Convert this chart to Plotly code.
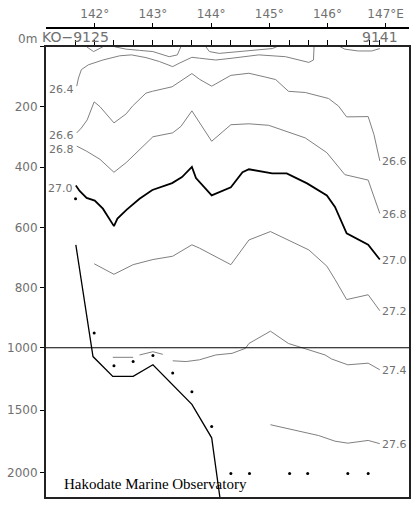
import plotly.graph_objects as go

# ---------------- data ----------------
station_lon = [141.67, 142.0, 142.33, 142.67, 143.0, 143.33, 143.67, 144.0, 144.33,
               144.67, 145.02, 145.35, 145.67, 146.0, 146.33, 146.72, 146.9]
first_station = "KO\u22129125"
last_station = "9141"

lon_ticks = [142, 143, 144, 145, 146, 147]
lon_tick_text = ["142°", "143°", "144°", "145°", "146°", "147°E"]
depth_ticks = [0, 200, 400, 600, 800, 1000, 1500, 2000]
depth_tick_text = ["", "200", "400", "600", "800", "1000", "1500", "2000"]

# near-surface unlabeled isolines
a_lon = [141.86, 141.98, 142.14]
a_dep = [0, 16, 0]
b_lon = [142.34, 142.54, 142.77, 143.0, 143.28, 143.42, 143.48]
b_dep = [0, 8, 12, 16, 33, 27, 0]
d_lon = [143.91, 143.97, 144.14, 144.65, 145.05, 145.13]
d_dep = [0, 16, 22, 14, 6, 0]
e_lon = [146.22, 146.30, 146.53, 146.76, 146.90]
e_dep = [0, 8, 14, 14, 6]

s264_lon = [141.69, 141.72, 141.77, 141.89, 142.14, 142.43, 142.63, 142.88, 143.11, 143.34,
            143.45, 143.67, 143.80, 144.08, 144.36, 144.82, 145.28, 145.50, 145.68, 145.76, 145.77]
s264_dep = [131, 104, 76, 60, 44, 30, 27, 36, 49, 66, 55, 35, 38, 44, 38, 27, 33, 44, 52, 44, 0]

s266_lon = [141.69, 141.77, 141.87, 141.99, 142.09, 142.33, 142.54, 142.65, 142.88, 142.99,
            143.33, 143.49, 143.67, 143.80, 144.01, 144.34, 144.65, 144.94, 145.11, 145.33,
            145.62, 146.02, 146.19, 146.33, 146.70, 146.80, 146.90]
s266_dep = [286, 270, 243, 183, 199, 253, 223, 197, 154, 148, 133, 112, 89, 108, 131, 95, 88,
            101, 109, 148, 152, 172, 197, 233, 232, 292, 379]

s268_lon = [141.69, 141.86, 142.09, 142.33, 142.54, 142.88, 143.0, 143.34, 143.48, 143.67,
            143.80, 144.01, 144.34, 144.65, 144.99, 145.62, 145.99, 146.30, 146.70, 146.90]
s268_dep = [330, 347, 374, 417, 385, 322, 299, 286, 265, 213, 253, 314, 259, 256, 261, 303,
            352, 425, 443, 554]

s270_lon = [141.675, 141.74, 141.86, 142.0, 142.14, 142.26, 142.33, 142.39, 142.55, 142.77,
            142.99, 143.33, 143.50, 143.67, 143.74, 144.01, 144.34, 144.54, 144.65, 145.05,
            145.30, 145.65, 145.99, 146.13, 146.33, 146.70, 146.90]
s270_dep = [461, 479, 502, 511, 538, 576, 596, 571, 541, 505, 476, 453, 433, 399, 436, 494,
            467, 417, 407, 421, 421, 454, 494, 532, 620, 658, 707]

s272_lon = [141.99, 142.33, 142.66, 143.0, 143.34, 143.67, 143.80, 144.34, 144.65, 145.02,
            145.68, 145.99, 146.13, 146.33, 146.70, 146.90]
s272_dep = [721, 756, 724, 707, 696, 658, 669, 724, 642, 614, 675, 729, 773, 840, 824, 877]

s274a_lon = [142.31, 142.66]
s274a_dep = [1077, 1077]
s274b_lon = [142.77, 143.0, 143.17]
s274b_dep = [1058, 1032, 1053]
s274_lon = [143.34, 143.57, 143.80, 144.08, 144.36, 144.59, 144.65, 145.02, 145.33, 145.56,
            145.96, 146.07, 146.35, 146.70, 146.90]
s274_dep = [1105, 1111, 1097, 1058, 1045, 1005, 986, 945, 986, 1000, 1058, 1090, 1137, 1124, 1177]

s276_lon = [145.02, 145.50, 145.85, 146.13, 146.35, 146.70, 146.90]
s276_dep = [1618, 1665, 1705, 1750, 1766, 1744, 1770]

bottom_lon = [141.675, 141.97, 142.31, 142.66, 143.0, 143.67, 144.01, 144.15, 144.21]
bottom_dep = [658, 1071, 1230, 1230, 1137, 1454, 1723, 2198, 2400]

dot_lon = [141.67, 141.99, 142.33, 142.66, 143.0, 143.34, 143.67, 144.01, 144.34, 144.66,
           145.35, 145.66, 146.35, 146.70]
dot_dep = [505, 951, 1145, 1111, 1063, 1203, 1353, 1633, 2010, 2010, 2010, 2010, 2010, 2010]

left_labels = ["26.4", "26.6", "26.8", "27.0"]
right_labels = ["26.6", "26.8", "27.0", "27.2", "27.4", "27.6"]

# -------------- broken depth scale --------------
BREAK = 1000.0
LOWER_RATIO = 0.414  # lower part (below 1000 m) is compressed


def to_axis(d):
    return d if d <= BREAK else BREAK + (d - BREAK) * LOWER_RATIO


def tr(lst):
    return [to_axis(v) for v in lst]


GRAY = "#808080"
TXT = "#707070"
FONT = "DejaVu Sans"

fig = go.Figure()


def add_line(lon, dep, color=GRAY, width=1.0):
    fig.add_trace(go.Scatter(x=lon, y=tr(dep), mode="lines",
                             line=dict(color=color, width=width, shape="linear"),
                             hoverinfo="skip", showlegend=False))


for lon, dep in [(a_lon, a_dep), (b_lon, b_dep), (d_lon, d_dep), (e_lon, e_dep),
                 (s264_lon, s264_dep), (s266_lon, s266_dep), (s268_lon, s268_dep),
                 (s272_lon, s272_dep), (s274a_lon, s274a_dep), (s274b_lon, s274b_dep),
                 (s274_lon, s274_dep), (s276_lon, s276_dep)]:
    add_line(lon, dep)

add_line(s270_lon, s270_dep, color="black", width=1.8)
add_line(bottom_lon, bottom_dep, color="black", width=1.3)

fig.add_trace(go.Scatter(x=dot_lon, y=tr(dot_dep), mode="markers",
                         marker=dict(color="black", size=3), hoverinfo="skip",
                         showlegend=False))

# dummy trace for the degree axis
fig.add_trace(go.Scatter(x=[lon_ticks[0]], y=[0], xaxis="x2", mode="markers",
                         marker=dict(opacity=0), hoverinfo="skip", showlegend=False))

annotations = []
for lab, lon, dep in zip(left_labels,
                         [s264_lon, s266_lon, s268_lon, s270_lon],
                         [s264_dep, s266_dep, s268_dep, s270_dep]):
    annotations.append(dict(x=lon[0], y=to_axis(dep[0]), text=lab, showarrow=False,
                            xanchor="right", yanchor="middle", xshift=-1, yshift=-3,
                            font=dict(family=FONT, size=11, color=TXT)))
for lab, lon, dep in zip(right_labels,
                         [s266_lon, s268_lon, s270_lon, s272_lon, s274_lon, s276_lon],
                         [s266_dep, s268_dep, s270_dep, s272_dep, s274_dep, s276_dep]):
    annotations.append(dict(x=lon[-1], y=to_axis(dep[-1]), text=lab, showarrow=False,
                            xanchor="left", yanchor="middle", xshift=0, yshift=-1,
                            font=dict(family=FONT, size=11, color=TXT)))

annotations.append(dict(x=station_lon[0], y=0.98, xref="x", yref="paper", text=first_station,
                        showarrow=False, xanchor="center", yanchor="middle",
                        font=dict(family=FONT, size=14, color=TXT)))
annotations.append(dict(x=station_lon[-1], y=0.98, xref="x", yref="paper", text=last_station,
                        showarrow=False, xanchor="center", yanchor="middle",
                        font=dict(family=FONT, size=14, color=TXT)))
annotations.append(dict(x=-0.019, y=0.977, xref="paper", yref="paper", text="0m",
                        showarrow=False, xanchor="right", yanchor="middle",
                        font=dict(family=FONT, size=12, color=TXT)))
annotations.append(dict(x=0.044, y=0.027, xref="paper", yref="paper",
                        text="Hakodate Marine Observatory", showarrow=False,
                        xanchor="left", yanchor="middle",
                        font=dict(family="Liberation Serif", size=15, color="black")))

xr = [141.162, 147.402]

fig.update_layout(
    width=418, height=506,
    margin=dict(l=46, r=7, t=22, b=9, pad=0),
    plot_bgcolor="white", paper_bgcolor="white",
    showlegend=False, hovermode=False,
    annotations=annotations,
    xaxis=dict(range=xr, side="top", anchor="y", tickmode="array", tickvals=station_lon,
               showticklabels=False, ticks="outside", ticklen=5, tickcolor="black",
               showline=True, linecolor="#222", linewidth=2, mirror=True,
               showgrid=False, zeroline=False, fixedrange=True),
    xaxis2=dict(range=xr, overlaying="x", anchor="free", position=1, side="top",
                tickmode="array", tickvals=lon_ticks, ticktext=lon_tick_text,
                ticks="outside", ticklen=4, tickcolor="black",
                tickfont=dict(family=FONT, size=12, color=TXT),
                showline=True, linecolor="black", linewidth=1.5,
                showgrid=False, zeroline=False),
    yaxis=dict(range=[to_axis(2198), 0], domain=[0, 456 / 475], tickmode="array",
               tickvals=tr(depth_ticks), ticktext=depth_tick_text,
               ticks="outside", ticklen=4, tickcolor="black",
               tickfont=dict(family=FONT, size=12, color=TXT),
               showline=True, linecolor="#222", linewidth=2, mirror=True,
               showgrid=False, zeroline=False),
    shapes=[dict(type="line", xref="x domain", yref="y", x0=0, x1=1,
                 y0=to_axis(1000), y1=to_axis(1000),
                 line=dict(color="black", width=1.2))],
)

fig.write_html("out.html", config={"displayModeBar": False},
               post_script="document.body.style.margin='0px';"
                           "document.body.style.overflow='hidden';")
